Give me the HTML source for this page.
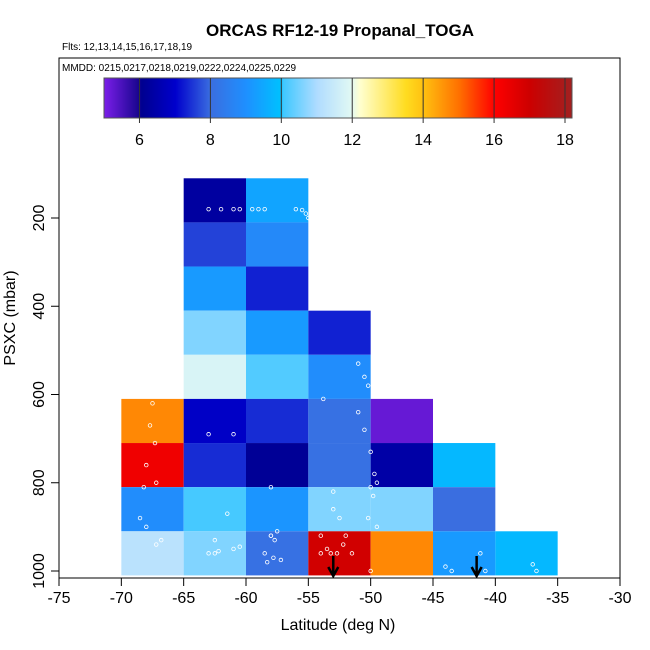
<!DOCTYPE html>
<html><head><meta charset="utf-8"><style>
body{margin:0;background:#fff;font-family:"Liberation Sans",sans-serif}
svg{display:block}
</style></head><body>
<svg id="c" width="650" height="650" xmlns="http://www.w3.org/2000/svg" font-family="Liberation Sans, sans-serif">
<text x="340" y="36" font-size="17" font-weight="bold" text-anchor="middle">ORCAS RF12-19 Propanal_TOGA</text>
<text x="62" y="50" font-size="10">Flts: 12,13,14,15,16,17,18,19</text>
<rect x="59" y="58" width="561" height="520" fill="none" stroke="#000"/>
<text x="62" y="71" font-size="10">MMDD: 0215,0217,0218,0219,0222,0224,0225,0229</text>
<g id="cells"></g><g id="pts"></g><g id="cbar"></g><g id="axes"></g>
<text x="338" y="630" font-size="16" text-anchor="middle">Latitude (deg N)</text>
<text transform="translate(15,318) rotate(-90)" font-size="16" text-anchor="middle">PSXC (mbar)</text>
</svg>
<script>
const cellLat=[-65,-60, -65,-60, -65,-60, -65,-60,-55, -65,-60,-55, -70,-65,-60,-55,-50, -70,-65,-60,-55,-50,-45, -70,-65,-60,-55,-50,-45, -70,-65,-60,-55,-50,-45,-40];
const cellPres=[160,160, 260,260, 360,360, 460,460,460, 560,560,560, 660,660,660,660,660, 760,760,760,760,760,760, 860,860,860,860,860,860, 960,960,960,960,960,960,960];
const cellVal=[6.3,9.4, 7.6,8.8, 9.2,7.3, 10.6,9.2,7.3, 11.8,10.2,8.9, 14.7,6.9,7.4,8.1,5.2, 16.3,7.4,6.15,8.1,6.4,9.8, 8.9,10.1,9.1,10.6,10.6,8.0, 11.2,10.6,8.1,16.9,14.7,9.2,9.8];
const ptLat=[-63,-62,-61,-60.5,-59.5,-59,-58.5,-56,-55.5,-55.2,-55,-67.5,-67.7,-67.3,-68,-68.2,-67.2,-63,-61,-62.5,-61.5,-57.5,-58,-58.5,-57.8,-53,-52.5,-52,-51,-50.5,-50,-49.7,-49.5,-49.8,-50.2,-54,-53.5,-53.2,-52.7,-54,-51.5,-52.2,-68,-67.2,-68.5,-66.8,-63,-62.5,-62.2,-61,-60.5,-58,-57.7,-58.3,-57.2,-44,-43.5,-41.2,-40.8,-37,-36.7,-53,-50,-49.5,-58,-50.5,-50.2,-51,-53.8,-50];
const ptPres=[180,180,180,180,180,180,180,180,182,190,200,620,670,710,760,810,800,690,690,930,870,910,920,960,970,860,880,920,640,680,730,780,800,830,880,920,950,960,960,960,960,940,900,940,880,930,960,960,955,950,945,920,930,980,975,990,1000,960,1000,985,1000,820,810,900,810,560,580,530,610,1000];
const colStops=[[5,"#7a1ee8"],[5.95,"#1a0690"],[6.05,"#000090"],[7,"#0000cc"],[8,"#3a6ee0"],[9,"#1e90ff"],[9.95,"#00c0ff"],[10.05,"#40c8ff"],[11,"#b0dcff"],[11.95,"#e0f8f4"],[12.2,"#ffffd0"],[13.5,"#ffdc20"],[14,"#ffc010"],[15,"#ff7000"],[16,"#ff0000"],[17,"#cc0000"],[18,"#a81c1c"],[18.3,"#a02020"]];
const ticksX=[-75,-70,-65,-60,-55,-50,-45,-40,-35,-30];
const ticksY=[200,400,600,800,1000];
const ticksC=[6,8,10,12,14,16,18];
const arrowLat=[-53,-41.5];
const NS="http://www.w3.org/2000/svg";
const X=v=>59+(v+75)*561/45;
const Y=p=>218+(p-200)*(571-218)/800;
const C=v=>104+(v-5)*(565-104)/13;
function hex(h){return [1,3,5].map(i=>parseInt(h.substr(i,2),16));}
function cmap(v){if(v<=colStops[0][0])return colStops[0][1];for(let i=1;i<colStops.length;i++){if(v<=colStops[i][0]){const[a,ca]=colStops[i-1],[b,cb]=colStops[i];const t=(v-a)/(b-a);const A=hex(ca),B=hex(cb);return "rgb("+A.map((x,k)=>Math.round(x+(B[k]-x)*t)).join(",")+")";}}return colStops[colStops.length-1][1];}
function mk(tag,at,par){const e=document.createElementNS(NS,tag);for(const k in at)e.setAttribute(k,at[k]);par.appendChild(e);return e;}
const cells=document.getElementById('cells');
cellVal.forEach((v,i)=>{const r=mk('rect',{x:X(cellLat[i]),y:Y(cellPres[i]-50),width:X(cellLat[i]+5)-X(cellLat[i]),height:Y(cellPres[i]+50)-Y(cellPres[i]-50),fill:cmap(v)},cells);

});
const pts=document.getElementById('pts');
ptLat.forEach((v,i)=>{const c=mk('circle',{cx:X(v),cy:Y(ptPres[i]),r:1.8,fill:'none',stroke:'#fff','stroke-width':0.8},pts);

});
arrowLat.forEach(a=>{const g=mk('g',{stroke:'#000','stroke-width':2.5,fill:'none'},pts);


mk('line',{x1:X(a),y1:556,x2:X(a),y2:576},g);mk('polyline',{points:(X(a)-5)+",567 "+X(a)+",576 "+(X(a)+5)+",567"},g);});
const cb=document.getElementById('cbar');
for(let x=104;x<572;x++){const v=5+(x-104)*13/(565-104);mk('rect',{x:x,y:78,width:1.2,height:40,fill:cmap(v)},cb);}
const fr=mk('rect',{x:104,y:78,width:468,height:40,fill:'none',stroke:'#555'},cb);


ticksC.forEach(t=>{mk('line',{x1:C(t),y1:78,x2:C(t),y2:123,stroke:'#333'},cb);const tx=mk('text',{x:C(t),y:145,'font-size':16,'text-anchor':'middle'},cb);tx.textContent=t;

});
const ax=document.getElementById('axes');
ticksX.forEach(t=>{mk('line',{x1:X(t),y1:578,x2:X(t),y2:586,stroke:'#000'},ax);const tx=mk('text',{x:X(t),y:603,'font-size':16,'text-anchor':'middle'},ax);tx.textContent=t;

});
ticksY.forEach(t=>{mk('line',{x1:51,y1:Y(t),x2:59,y2:Y(t),stroke:'#000'},ax);const tx=mk('text',{x:0,y:0,'font-size':16,'text-anchor':'middle',transform:'translate(44,'+Y(t)+') rotate(-90)'},ax);tx.textContent=t;

});
</script>
</body></html>
